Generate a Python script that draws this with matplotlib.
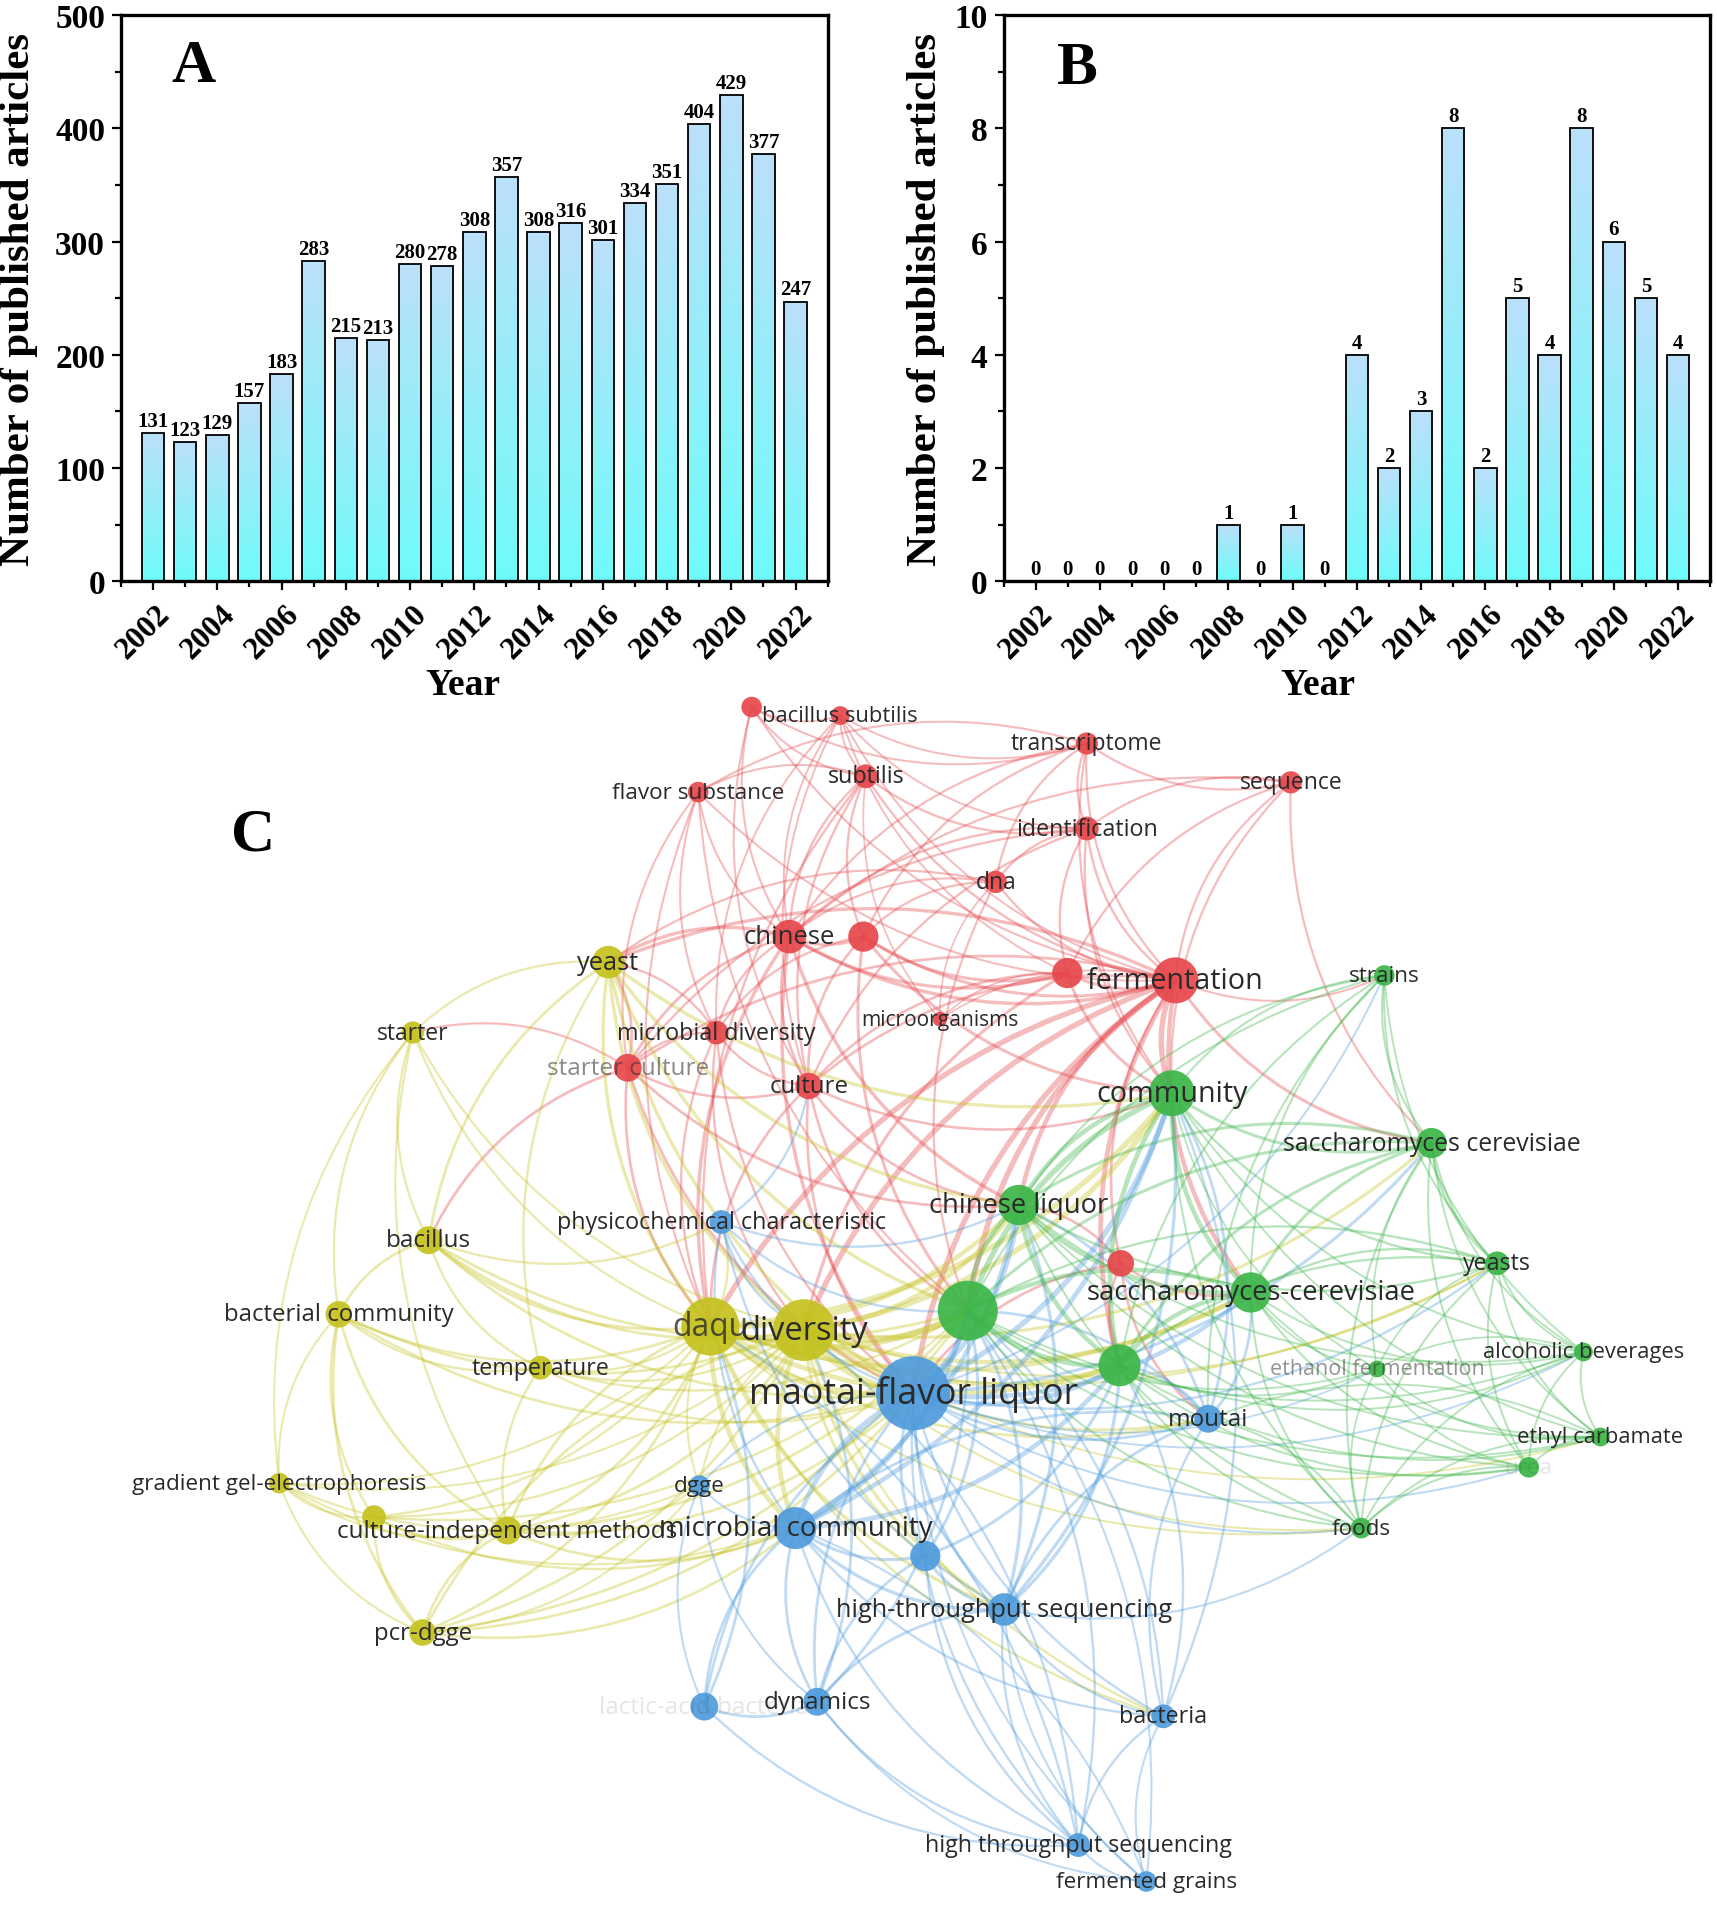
import numpy as np
import matplotlib
matplotlib.use("Agg")
import matplotlib.pyplot as plt
from matplotlib.colors import LinearSegmentedColormap
from matplotlib.patches import FancyArrowPatch
from matplotlib.transforms import ScaledTranslation

plt.rcParams['font.family'] = ['Liberation Serif', 'DejaVu Serif']
plt.rcParams['font.weight'] = 'bold'
plt.rcParams['axes.labelweight'] = 'bold'

# ---- data: panels A and B ----
years = list(range(2002, 2023))
counts_a = [131, 123, 129, 157, 183, 283, 215, 213, 280, 278, 308,
            357, 308, 316, 301, 334, 351, 404, 429, 377, 247]
counts_b = [0, 0, 0, 0, 0, 0, 1, 0, 1, 0, 4, 2, 3, 8, 2, 5, 4, 8, 6, 5, 4]

# ---- data: panel C keyword co-occurrence network ----
node_names = [
    'r_a', 'bacillus subtilis', 'transcriptome', 'subtilis', 'flavor substance',
    'sequence', 'identification', 'dna', 'chinese', 'r_b', 'r_c', 'fermentation',
    'microorganisms', 'microbial diversity', 'starter culture', 'culture', 'r_d',
    'yeast', 'starter', 'bacillus', 'bacterial community', 'temperature', 'daqu',
    'diversity', 'gradient gel-electrophoresis', 'y_a', 'culture-independent methods',
    'pcr-dgge',
    'physicochemical characteristic', 'maotai-flavor liquor', 'moutai', 'dgge',
    'microbial community', 'b_a', 'high-throughput sequencing', 'lactic-acid bacteria',
    'dynamics', 'bacteria', 'high throughput sequencing', 'fermented grains',
    'strains', 'community', 'saccharomyces cerevisiae', 'chinese liquor', 'yeasts',
    'saccharomyces-cerevisiae', 'g_a', 'g_b', 'alcoholic beverages',
    'ethanol fermentation', 'ethyl carbamate', 'urea', 'foods',
]
node_x = [619, 692, 895, 713, 575, 1063, 895, 820, 650, 711, 879, 968, 774, 590,
          517, 666, 923,
          501, 340, 353, 279, 445, 585, 662, 230, 308, 418, 348,
          594, 752, 995, 576, 655, 762, 827, 580, 673, 958, 888, 944,
          1140, 965, 1179, 839, 1233, 1030, 797, 922, 1304, 1134, 1318, 1259, 1121]
node_y = [583, 590, 613, 640, 653, 645, 683, 727, 772, 772, 802, 808, 840, 851,
          880, 895, 1041,
          793, 851, 1022, 1083, 1127, 1093, 1096, 1222, 1250, 1261, 1345,
          1007, 1148, 1169, 1224, 1259, 1282, 1326, 1406, 1402, 1414, 1520, 1550,
          804, 901, 942, 993, 1041, 1065, 1080, 1125, 1114, 1128, 1184, 1209, 1259]
node_cluster = (['red'] * 17 + ['yellow'] * 11 + ['blue'] * 12 + ['green'] * 13)
node_occ = [6, 5, 7, 8, 6, 7, 8, 7, 16, 13, 13, 30, 3, 8, 11, 10, 10,
            15, 7, 11, 10, 8, 48, 54, 6, 8, 11, 10,
            8, 78, 11, 6, 25, 13, 15, 11, 11, 8, 8, 6,
            6, 30, 13, 23, 8, 23, 51, 25, 5, 4, 5, 6, 6]
hidden_label = {'r_a', 'r_b', 'r_c', 'r_d', 'y_a', 'b_a', 'g_a', 'g_b'}
faded_label = {'starter culture': 0.55, 'ethanol fermentation': 0.5,
               'lactic-acid bacteria': 0.12, 'urea': 0.12, 'daqu': 0.8}

links = {
    'r_a': ['bacillus subtilis', 'subtilis', 'chinese', 'fermentation', 'culture', 'transcriptome'],
    'bacillus subtilis': ['transcriptome', 'subtilis', 'identification', 'fermentation', 'chinese',
                          'microbial diversity', 'culture', 'r_c'],
    'transcriptome': ['identification', 'sequence', 'dna', 'fermentation', 'chinese', 'r_b',
                      'flavor substance', 'community'],
    'subtilis': ['flavor substance', 'chinese', 'r_b', 'fermentation', 'culture', 'identification',
                 'daqu', 'microorganisms'],
    'flavor substance': ['chinese', 'starter culture', 'microbial diversity', 'daqu', 'g_a', 'fermentation'],
    'sequence': ['identification', 'fermentation', 'community', 'r_c', 'saccharomyces cerevisiae', 'chinese'],
    'identification': ['dna', 'fermentation', 'chinese', 'r_c', 'starter culture', 'community', 'culture'],
    'dna': ['chinese', 'r_b', 'microorganisms', 'fermentation', 'g_a', 'yeast'],
    'chinese': ['r_b', 'microbial diversity', 'starter culture', 'culture', 'fermentation', 'r_c', 'yeast',
                'daqu', 'chinese liquor', 'maotai-flavor liquor'],
    'r_b': ['fermentation', 'culture', 'microbial diversity', 'r_c', 'g_a', 'community'],
    'r_c': ['fermentation', 'community', 'culture', 'microorganisms', 'diversity'],
    'fermentation': ['community', 'chinese liquor', 'saccharomyces-cerevisiae', 'g_a', 'g_b', 'strains',
                     'saccharomyces cerevisiae', 'microorganisms', 'starter culture', 'culture', 'yeast',
                     'maotai-flavor liquor', 'r_d', 'diversity', 'daqu'],
    'microbial diversity': ['starter culture', 'culture', 'daqu', 'diversity', 'maotai-flavor liquor', 'yeast'],
    'starter culture': ['culture', 'yeast', 'starter', 'daqu', 'maotai-flavor liquor', 'bacillus',
                        'chinese liquor'],
    'culture': ['maotai-flavor liquor', 'daqu', 'chinese liquor', 'g_a', 'community'],
    'r_d': ['chinese liquor', 'saccharomyces-cerevisiae', 'maotai-flavor liquor', 'g_b', 'moutai'],
    'yeast': ['starter', 'daqu', 'diversity', 'bacillus', 'g_a', 'maotai-flavor liquor', 'chinese liquor',
              'community', 'temperature'],
    'starter': ['bacillus', 'bacterial community', 'daqu', 'diversity', 'gradient gel-electrophoresis',
                'culture-independent methods'],
    'bacillus': ['bacterial community', 'daqu', 'diversity', 'temperature', 'maotai-flavor liquor', 'g_a',
                 'physicochemical characteristic'],
    'bacterial community': ['daqu', 'diversity', 'temperature', 'gradient gel-electrophoresis', 'y_a',
                            'pcr-dgge', 'maotai-flavor liquor', 'culture-independent methods'],
    'temperature': ['daqu', 'diversity', 'maotai-flavor liquor', 'g_a', 'culture-independent methods'],
    'daqu': ['diversity', 'maotai-flavor liquor', 'g_a', 'chinese liquor', 'physicochemical characteristic',
             'microbial community', 'g_b', 'community', 'saccharomyces-cerevisiae', 'dgge',
             'high-throughput sequencing', 'culture-independent methods', 'bacteria', 'yeasts',
             'moutai', 'foods'],
    'diversity': ['maotai-flavor liquor', 'g_a', 'chinese liquor', 'community', 'saccharomyces-cerevisiae',
                  'g_b', 'microbial community', 'moutai', 'pcr-dgge', 'dgge', 'b_a',
                  'saccharomyces cerevisiae', 'yeasts', 'foods', 'ethyl carbamate',
                  'high-throughput sequencing', 'bacteria'],
    'gradient gel-electrophoresis': ['y_a', 'culture-independent methods', 'pcr-dgge', 'dgge', 'daqu',
                                     'diversity', 'microbial community'],
    'y_a': ['culture-independent methods', 'pcr-dgge', 'daqu', 'diversity', 'microbial community', 'g_a'],
    'culture-independent methods': ['pcr-dgge', 'daqu', 'diversity', 'microbial community',
                                    'maotai-flavor liquor', 'dgge', 'g_a'],
    'pcr-dgge': ['diversity', 'microbial community', 'maotai-flavor liquor', 'daqu', 'g_a', 'dgge'],
    'physicochemical characteristic': ['maotai-flavor liquor', 'diversity', 'microbial community', 'g_a',
                                       'chinese liquor', 'culture', 'high-throughput sequencing'],
    'maotai-flavor liquor': ['g_a', 'g_b', 'chinese liquor', 'community', 'saccharomyces-cerevisiae', 'moutai',
                             'microbial community', 'b_a', 'high-throughput sequencing', 'dgge', 'dynamics',
                             'lactic-acid bacteria', 'bacteria', 'high throughput sequencing',
                             'fermented grains', 'saccharomyces cerevisiae', 'yeasts', 'ethanol fermentation',
                             'foods', 'alcoholic beverages', 'strains', 'urea'],
    'moutai': ['g_a', 'g_b', 'saccharomyces-cerevisiae', 'community', 'high-throughput sequencing',
               'microbial community', 'bacteria', 'chinese liquor'],
    'dgge': ['microbial community', 'dynamics', 'lactic-acid bacteria'],
    'microbial community': ['b_a', 'high-throughput sequencing', 'dynamics', 'lactic-acid bacteria', 'g_a',
                            'g_b', 'chinese liquor', 'high throughput sequencing', 'bacteria', 'community'],
    'b_a': ['high-throughput sequencing', 'g_a', 'dynamics', 'high throughput sequencing', 'g_b'],
    'high-throughput sequencing': ['g_a', 'g_b', 'dynamics', 'bacteria', 'high throughput sequencing',
                                   'fermented grains', 'chinese liquor', 'community', 'foods'],
    'lactic-acid bacteria': ['dynamics', 'high throughput sequencing', 'daqu'],
    'dynamics': ['high throughput sequencing', 'fermented grains', 'g_a', 'diversity'],
    'bacteria': ['high throughput sequencing', 'fermented grains', 'g_a', 'g_b', 'community'],
    'high throughput sequencing': ['fermented grains', 'diversity', 'g_a', 'daqu'],
    'fermented grains': ['g_a', 'microbial community'],
    'strains': ['saccharomyces cerevisiae', 'community', 'g_a', 'yeasts', 'saccharomyces-cerevisiae',
                'alcoholic beverages', 'chinese liquor', 'g_b', 'moutai'],
    'community': ['chinese liquor', 'g_a', 'g_b', 'saccharomyces-cerevisiae', 'saccharomyces cerevisiae',
                  'yeasts', 'foods', 'ethanol fermentation', 'alcoholic beverages', 'ethyl carbamate'],
    'saccharomyces cerevisiae': ['yeasts', 'saccharomyces-cerevisiae', 'g_a', 'g_b', 'alcoholic beverages',
                                 'ethyl carbamate', 'urea', 'foods', 'chinese liquor', 'ethanol fermentation'],
    'chinese liquor': ['g_a', 'g_b', 'saccharomyces-cerevisiae', 'yeasts', 'foods', 'alcoholic beverages',
                       'ethyl carbamate', 'urea'],
    'yeasts': ['saccharomyces-cerevisiae', 'alcoholic beverages', 'ethyl carbamate', 'urea', 'g_a', 'g_b',
               'ethanol fermentation', 'foods'],
    'saccharomyces-cerevisiae': ['g_a', 'g_b', 'alcoholic beverages', 'ethanol fermentation',
                                 'ethyl carbamate', 'urea', 'foods'],
    'g_a': ['g_b', 'alcoholic beverages', 'ethanol fermentation', 'ethyl carbamate', 'urea', 'foods'],
    'g_b': ['alcoholic beverages', 'ethanol fermentation', 'ethyl carbamate', 'urea', 'foods'],
    'alcoholic beverages': ['ethyl carbamate', 'urea', 'ethanol fermentation', 'foods'],
    'ethanol fermentation': ['ethyl carbamate', 'urea', 'foods'],
    'ethyl carbamate': ['urea', 'foods', 'moutai'],
    'urea': ['foods'],
    'foods': ['moutai'],
}

cluster_colors = {'red': '#e6474b', 'yellow': '#c5c21f', 'blue': '#4f9bdc', 'green': '#3cb548'}

DPI = 100
fig = plt.figure(figsize=(17.17, 19.08), dpi=DPI)

# ---------------- panel C (network) ----------------
net = fig.add_axes([0, 0, 1, 1], zorder=0)
net.set_xlim(0, 1414)
net.set_ylim(1571, 0)
net.axis('off')

idx = {n: i for i, n in enumerate(node_names)}
for src, targets in links.items():
    i = idx[src]
    for t in targets:
        j = idx[t]
        w = min(node_occ[i], node_occ[j])
        lw = min(0.9 + 0.1 * w, 4.5)
        arc = FancyArrowPatch((node_x[i], node_y[i]), (node_x[j], node_y[j]),
                              connectionstyle='arc3,rad=0.22', arrowstyle='-',
                              shrinkA=0, shrinkB=0, lw=lw,
                              color=cluster_colors[node_cluster[i]], alpha=0.36, zorder=1)
        net.add_patch(arc)

order = np.argsort(node_occ)
radius_px = 4.2 * np.sqrt(np.array(node_occ, dtype=float))
sizes = (2 * radius_px * 72 / DPI) ** 2
net.scatter(np.array(node_x)[order], np.array(node_y)[order], s=sizes[order],
            c=[cluster_colors[node_cluster[k]] for k in order], alpha=0.92,
            linewidths=0, zorder=3)

for k in order:
    name = node_names[k]
    if name in hidden_label:
        continue
    fs = 12.5 + 1.5 * np.sqrt(node_occ[k])
    net.text(node_x[k], node_y[k], name, fontsize=fs, family='Open Sans', weight='normal',
             ha='center', va='center', color='#2a2a2a', alpha=faded_label.get(name, 1.0), zorder=4)

net.text(208, 688, 'C', fontsize=44, ha='center', va='center', weight='bold', zorder=5)

# ---------------- panels A and B (bars) ----------------
grad_cmap = LinearSegmentedColormap.from_list('bar_grad', ['#6ffbfb', '#bce0f9'])
grad = np.linspace(0, 1, 256).reshape(-1, 1)


def bar_panel(rect, counts, ymax, ystep, letter, letter_xy, ylab_x, xlab_x):
    ax = fig.add_axes(rect, zorder=2)
    bars = ax.bar(years, counts, width=0.7, facecolor='none', edgecolor='black',
                  linewidth=1.3, zorder=3)
    for b, v in zip(bars, counts):
        if v > 0:
            x0 = b.get_x()
            im = ax.imshow(grad, extent=[x0, x0 + b.get_width(), 0, v], origin='lower',
                           aspect='auto', cmap=grad_cmap, zorder=2)
            im.set_clip_path(b)
        ax.annotate(str(v), (b.get_x() + b.get_width() / 2, v), xytext=(0, 1.5),
                    textcoords='offset points', ha='center', va='bottom', fontsize=15)
    ax.set_xlim(2001, 2023)
    ax.set_ylim(0, ymax)
    ax.set_xticks(range(2002, 2023, 2))
    ax.set_xticks(range(2001, 2024, 2), minor=True)
    ax.set_yticks(np.arange(0, ymax + 0.01, ystep))
    ax.set_yticks(np.arange(0, ymax + 0.01, ystep / 2), minor=True)
    ax.tick_params(which='major', direction='out', length=6.5, width=1.6)
    ax.tick_params(which='minor', direction='out', length=4, width=1.6)
    ax.tick_params(axis='x', which='major', pad=14, labelsize=22.5)
    ax.tick_params(axis='y', which='major', pad=5, labelsize=24)
    ax.set_xticklabels([str(y) for y in range(2002, 2023, 2)], rotation=45, ha='right',
                       va='center', rotation_mode='anchor')
    shift = ScaledTranslation(13 / DPI, 0, fig.dpi_scale_trans)
    for lbl in ax.get_xticklabels():
        lbl.set_transform(lbl.get_transform() + shift)
    for sp in ax.spines.values():
        sp.set_linewidth(2.4)
    ax.set_ylabel('Number of published articles', fontsize=31)
    ax.yaxis.set_label_coords(ylab_x, 0.5)
    ax.set_xlabel('Year', fontsize=27)
    ax.xaxis.set_label_coords(xlab_x, -0.182)
    ax.xaxis.label.set_va('center')
    ax.yaxis.label.set_va('center')
    ax.text(letter_xy[0], letter_xy[1], letter, transform=ax.transAxes, fontsize=44,
            ha='center', va='center')
    return ax


W, H = 1717.0, 1908.0
bot = (H - 582.3) / H
hgt = 566.3 / H
bar_panel([121 / W, bot, 706.7 / W, hgt], counts_a, 500, 100, 'A', (0.103, 0.91), -0.145, 0.484)
bar_panel([1003.5 / W, bot, 706.7 / W, hgt], counts_b, 10, 2, 'B', (0.105, 0.906), -0.11, 0.445)

fig.savefig('out.png', dpi=DPI)
